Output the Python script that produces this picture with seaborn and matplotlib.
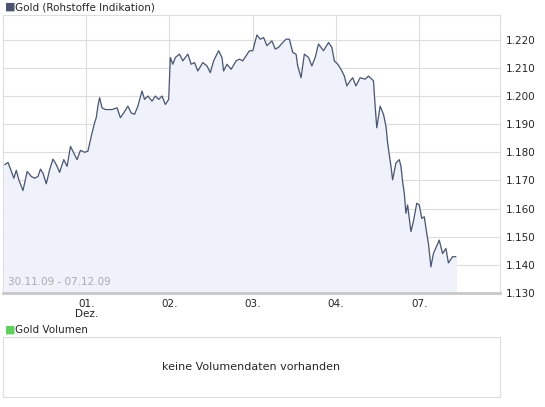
import numpy as np
import matplotlib
matplotlib.use('Agg')
import matplotlib.pyplot as plt
import seaborn as sns

sns.set_style('white')
plt.rcParams['font.family'] = ['DejaVu Sans']

# time in days (0 = 01. Dez.), gold price
days = [-0.98,-0.94,-0.87,-0.84,-0.81,-0.76,-0.71,-0.66,-0.62,-0.58,-0.55,-0.52,-0.48,-0.44,-0.40,-0.36,-0.32,-0.27,-0.23,-0.19,
        -0.14,-0.11,-0.07,-0.02,0.02,0.06,0.10,0.12,0.14,0.16,0.19,0.23,0.31,0.37,0.41,0.45,0.50,0.54,0.58,0.62,
        0.67,0.70,0.74,0.79,0.83,0.87,0.91,0.95,0.99,1.00,1.01,1.04,1.07,1.12,1.16,1.22,1.26,1.30,1.34,1.40,
        1.45,1.49,1.53,1.59,1.63,1.65,1.69,1.74,1.80,1.84,1.88,1.92,1.96,2.00,2.05,2.09,2.13,2.17,2.23,2.27,
        2.31,2.36,2.40,2.44,2.48,2.52,2.54,2.58,2.62,2.67,2.71,2.75,2.79,2.85,2.91,2.95,2.98,3.02,3.06,3.10,
        3.13,3.17,3.20,3.24,3.29,3.35,3.39,3.43,3.45,3.47,3.49,3.53,3.57,3.60,3.62,3.66,3.68,3.72,3.76,3.78,
        3.80,3.82,3.84,3.86,3.88,3.90,3.93,3.97,4.00,4.03,4.06,4.09,4.11,4.14,4.17,4.24,4.28,4.32,4.35,4.40,4.44]
price = [1.1756,1.1764,1.1708,1.1736,1.1702,1.1664,1.1732,1.1714,1.1708,1.1714,1.1740,1.1726,1.1688,1.1738,1.1776,1.1756,1.1729,1.1774,1.1750,1.1821,
         1.1792,1.1774,1.1807,1.1800,1.1804,1.1857,1.1905,1.1923,1.1964,1.1994,1.1958,1.1952,1.1952,1.1958,1.1923,1.1940,1.1964,1.1940,1.1935,1.1964,
         1.2018,1.1988,1.2000,1.1982,1.2000,1.1988,1.2000,1.1970,1.1988,1.2060,1.2137,1.2113,1.2137,1.2149,1.2125,1.2149,1.2113,1.2119,1.2089,1.2119,
         1.2107,1.2083,1.2125,1.2161,1.2137,1.2089,1.2113,1.2095,1.2125,1.2131,1.2125,1.2143,1.2161,1.2161,1.2217,1.2202,1.2208,1.2179,1.2196,1.2167,
         1.2173,1.2190,1.2202,1.2202,1.2155,1.2149,1.2107,1.2065,1.2149,1.2137,1.2107,1.2137,1.2185,1.2161,1.2190,1.2173,1.2125,1.2113,1.2095,1.2071,
         1.2036,1.2054,1.2065,1.2036,1.2065,1.2060,1.2071,1.2060,1.2054,1.1964,1.1887,1.1964,1.1935,1.1893,1.1833,1.1750,1.1702,1.1762,1.1774,1.1750,
         1.1696,1.1655,1.1583,1.1613,1.1565,1.1518,1.1554,1.1619,1.1613,1.1565,1.1571,1.1512,1.1476,1.1393,1.1440,1.1488,1.1440,1.1458,1.1407,1.1429,1.1429]
n = min(len(days), len(price))
days, price = days[:n], price[:n]

tick_pos = [0, 1, 2, 3, 4]
tick_lab = ['01.\nDez.', '02.', '03.', '04.', '07.']
yticks = [1.130, 1.140, 1.150, 1.160, 1.170, 1.180, 1.190, 1.200, 1.210, 1.220]

W, H = 545, 407
fig = plt.figure(figsize=(W / 100, H / 100), dpi=100)
ax = fig.add_axes([3 / W, 1 - 293 / H, 497 / W, 278 / H])
line_col = '#4a5570'
ax.fill_between(days, price, 1.125, color='#eff2fb', zorder=1)
sns.lineplot(x=days, y=price, ax=ax, color=line_col, linewidth=0.9, zorder=3)
ax.set_xlim(-1.0, 4.97)
ax.set_ylim(1.130, 1.2288)
ax.set_xticks(tick_pos)
ax.set_xticklabels(tick_lab, fontsize=7.5, linespacing=1.1)
ax.set_yticks(yticks)
ax.set_yticklabels([f'{v:.3f}' for v in yticks], fontsize=7.5)
ax.yaxis.tick_right()
ax.tick_params(length=0, pad=4)
ax.grid(True, color='#dddddd', linewidth=0.8)
for s in ax.spines.values():
    s.set_color('#dddddd')
ax.spines['bottom'].set_color('#c8c8c8')
ax.spines['bottom'].set_linewidth(2)
ax.text(0.01, 0.03, '30.11.09 - 07.12.09', transform=ax.transAxes, fontsize=7.5, color='#aaaaaa')

fig.text(5 / W, 1 - 7 / H, '■', color=line_col, fontsize=8, va='center')
fig.text(15 / W, 1 - 7 / H, 'Gold (Rohstoffe Indikation)', fontsize=7.5, va='center')
fig.text(5 / W, 1 - 330 / H, '■', color='#5fcf5f', fontsize=8, va='center')
fig.text(15 / W, 1 - 330 / H, 'Gold Volumen', fontsize=7.5, va='center')

ax2 = fig.add_axes([3 / W, 1 - 397 / H, 497 / W, 60 / H])
ax2.set_xticks([])
ax2.set_yticks([])
for s in ax2.spines.values():
    s.set_color('#dddddd')
ax2.text(0.5, 0.5, 'keine Volumendaten vorhanden', transform=ax2.transAxes,
         ha='center', va='center', fontsize=8)

fig.savefig('out.png', dpi=100)
